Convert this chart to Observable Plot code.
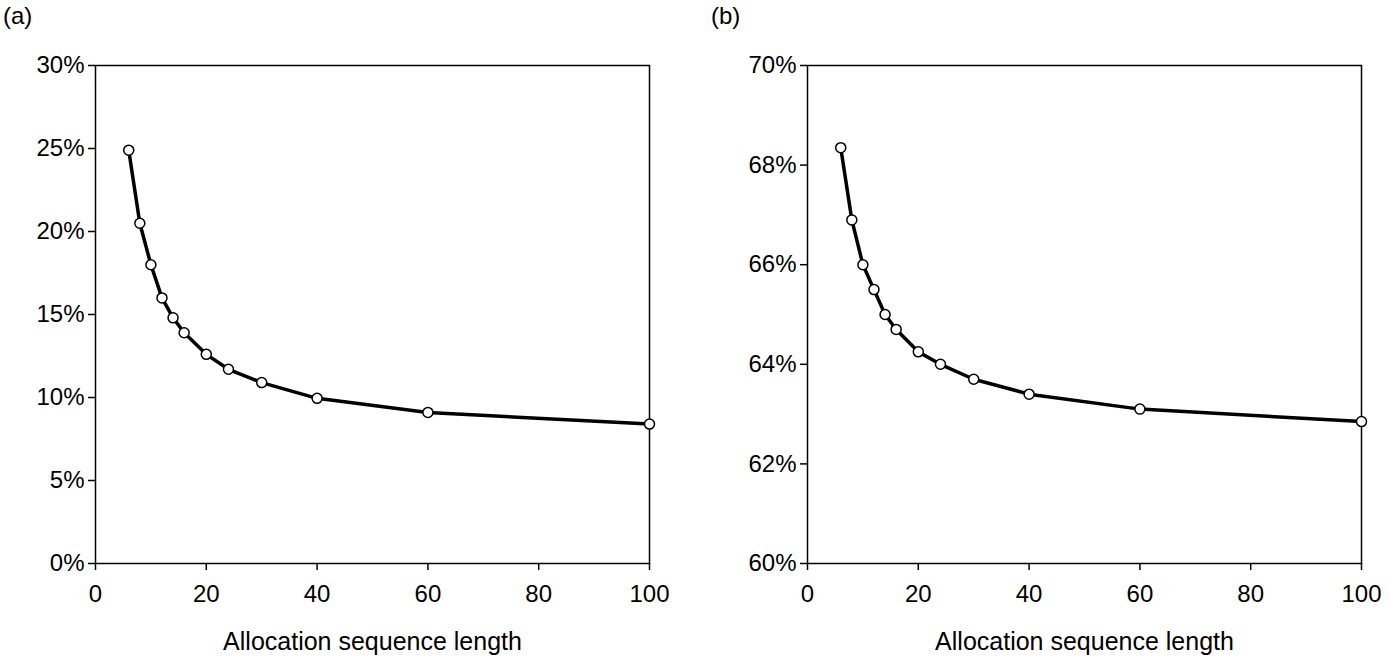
<!DOCTYPE html>
<html><head><meta charset="utf-8">
<script src="https://cdn.jsdelivr.net/npm/d3@7"></script>
<script src="https://cdn.jsdelivr.net/npm/@observablehq/plot@0.6"></script>
<style>
body{margin:0;background:#fff;font-family:"Liberation Sans",Arial,sans-serif;}
#wrap{position:relative;width:1390px;height:667px;}
.pl{position:absolute;top:0;}
.tag{position:absolute;top:2px;font-size:24px;}
</style></head><body>
<div id="wrap">
<div class="pl" id="a" style="left:0"></div>
<div class="pl" id="b" style="left:695px"></div>
<div class="tag" style="left:3px">(a)</div>
<div class="tag" style="left:711px">(b)</div>
</div>
<script>
const lengths = [6,8,10,12,14,16,20,24,30,40,60,100];
const seriesA = [24.9,20.5,18.0,16.0,14.8,13.9,12.6,11.7,10.9,9.95,9.1,8.4];
const seriesB = [68.35,66.9,66.0,65.5,65.0,64.7,64.25,64.0,63.7,63.4,63.1,62.85];
const xTicks = [0,20,40,60,80,100];
const yTicksA = [0,5,10,15,20,25,30];
const yTicksB = [60,62,64,66,68,70];

function make(vals, yDom, yTicks, ml, mr){
  const data = lengths.map((x,i)=>({x, y: vals[i]}));
  return Plot.plot({
    width:695, height:667, marginLeft:ml, marginRight:mr, marginTop:65, marginBottom:104,
    style:{fontSize:"24px", fontFamily:"Liberation Sans, Arial, sans-serif", color:"black", overflow:"visible"},
    x:{domain:[0,100]},
    y:{domain:yDom},
    marks:[
      Plot.axisX({ticks:xTicks, tickSize:7, tickPadding:14, fontSize:24, label:null, strokeWidth:1.5}),
      Plot.text(["Allocation sequence length"],{frameAnchor:"bottom", dy:86, fontSize:25, fill:"black"}),
      Plot.axisY({ticks:yTicks, tickSize:7, tickPadding:4, fontSize:24, label:null, tickFormat:d=>d+"%", strokeWidth:1.5}),
      Plot.frame({stroke:"black", strokeWidth:1.5}),
      Plot.line(data,{x:"x",y:"y",stroke:"black",strokeWidth:3.5}),
      Plot.dot(data,{x:"x",y:"y",r:5,fill:"white",stroke:"black",strokeWidth:1.5})
    ]
  });
}
document.getElementById("a").appendChild(make(seriesA,[0,30],yTicksA,95,46));
document.getElementById("b").appendChild(make(seriesB,[60,70],yTicksB,112,29));
</script>
</body></html>
